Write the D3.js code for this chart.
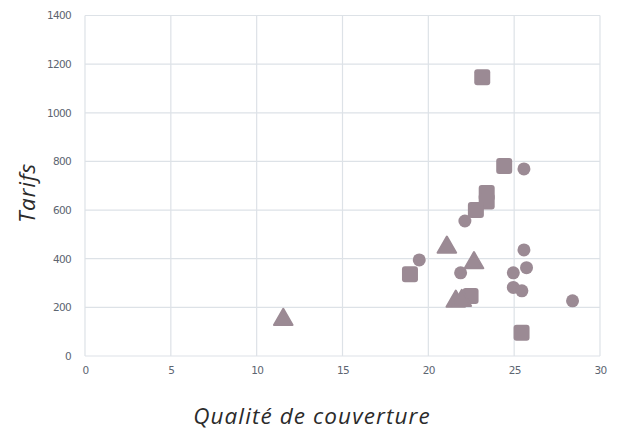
<!DOCTYPE html>
<html><head><meta charset="utf-8">
<script src="https://cdn.jsdelivr.net/npm/d3@7"></script>
<style>body{margin:0;background:#fff}</style>
</head><body><svg id="c" width="617" height="432"></svg>
<script>
const xTicks = [0,5,10,15,20,25,30];
const yTicks = [0,200,400,600,800,1000,1200,1400];
const squares = [[23.14,1146],[24.42,781],[23.4,670],[23.4,635],[22.77,600],[18.93,336],[22.46,247],[25.43,96]];
const circles = [[25.57,769],[22.13,555],[25.57,436],[19.47,395],[21.88,342],[24.95,342],[25.72,363],[24.95,282],[25.45,268],[28.4,227]];
const triangles = [[11.55,150],[21.08,447],[22.66,383],[21.6,225],[21.95,228]];
const xTitle = "Qualité de couverture";
const yTitle = "Tarifs";

const svg = d3.select("#c");
const x = d3.scaleLinear().domain([0,30]).range([85,600]);
const y = d3.scaleLinear().domain([0,1400]).range([356,15.5]);
const grid = "#dde2e7", col = "#9b8a94";

svg.append("g").selectAll("line").data(xTicks).join("line")
  .attr("x1",d=>x(d)).attr("x2",d=>x(d)).attr("y1",y(0)).attr("y2",y(1400))
  .attr("stroke",grid).attr("stroke-width",1.2);
svg.append("g").selectAll("line").data(yTicks).join("line")
  .attr("x1",x(0)).attr("x2",x(30)).attr("y1",d=>y(d)).attr("y2",d=>y(d))
  .attr("stroke",grid).attr("stroke-width",1.2);

const ax = svg.append("g").attr("transform",`translate(0,${y(0)})`)
  .call(d3.axisBottom(x).tickValues(xTicks).tickFormat(d3.format("d")).tickSize(0).tickPadding(11));
const ay = svg.append("g").attr("transform",`translate(${x(0)},0)`)
  .call(d3.axisLeft(y).tickValues(yTicks).tickFormat(d3.format("d")).tickSize(0).tickPadding(14));
[ax,ay].forEach(a=>{a.select(".domain").remove();
  a.attr("font-family","DejaVu Sans").attr("font-size",10.5);
  a.selectAll("text").attr("fill","#5d6571").attr("letter-spacing",-0.7);});

svg.append("g").selectAll("rect").data(squares).join("rect")
  .attr("x",d=>x(d[0])-8).attr("y",d=>y(d[1])-8).attr("width",16).attr("height",16)
  .attr("rx",3).attr("fill",col);
svg.append("g").selectAll("circle").data(circles).join("circle")
  .attr("cx",d=>x(d[0])).attr("cy",d=>y(d[1])).attr("r",6.5).attr("fill",col);
const tri = d3.symbol().type(d3.symbolTriangle).size(150);
svg.append("g").selectAll("path").data(triangles).join("path")
  .attr("d",tri).attr("transform",d=>`translate(${x(d[0])},${y(d[1])})`)
  .attr("fill",col).attr("stroke",col).attr("stroke-width",2).attr("stroke-linejoin","round");

svg.append("text").attr("x",312).attr("y",424).attr("text-anchor","middle")
  .attr("font-family","Open Sans").attr("font-style","italic").attr("font-size",22.5)
  .attr("letter-spacing",1.1).attr("fill","#2b2b2b").text(xTitle);
svg.append("text").attr("transform","translate(35,193) rotate(-90)").attr("text-anchor","middle")
  .attr("font-family","Open Sans").attr("font-style","italic").attr("font-size",22.5)
  .attr("letter-spacing",0.8).attr("fill","#2b2b2b").text(yTitle);
</script></body></html>
